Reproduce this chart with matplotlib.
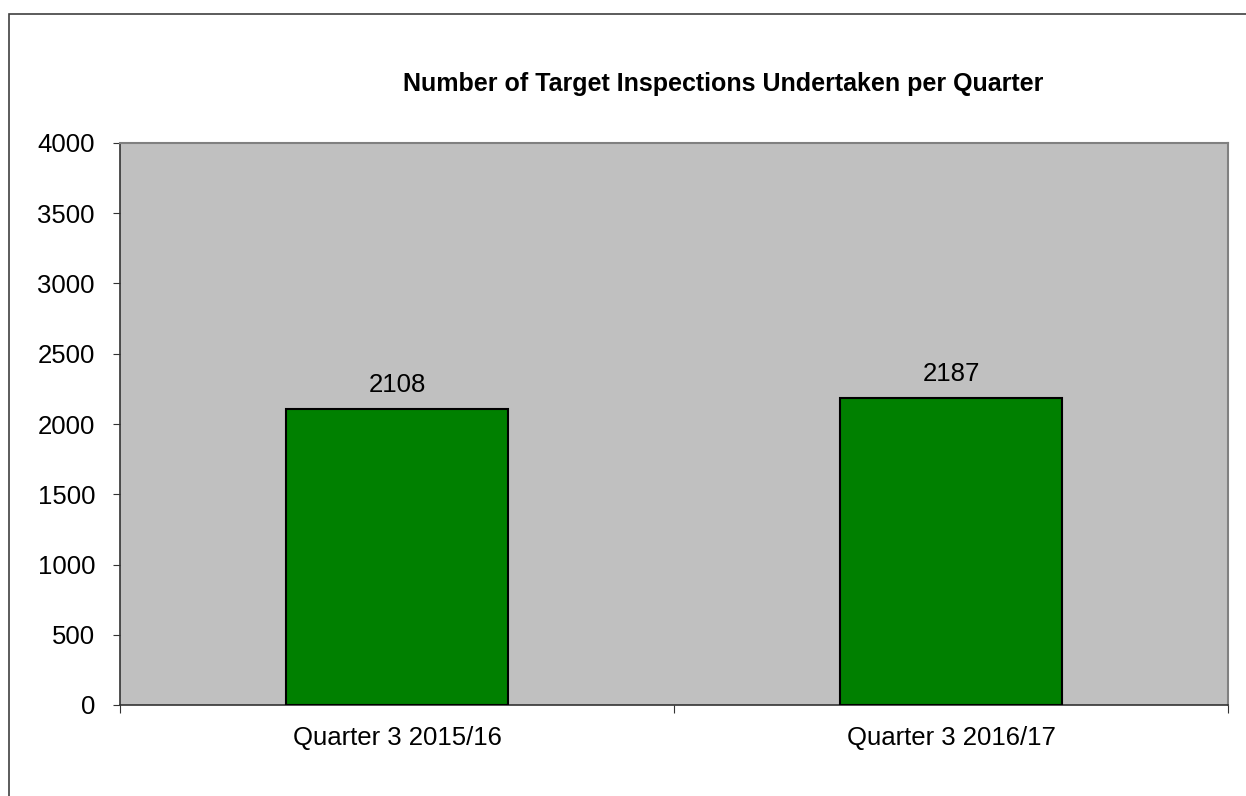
import matplotlib.pyplot as plt
from matplotlib.patches import Rectangle

plt.rcParams['font.family'] = ['Liberation Sans', 'DejaVu Sans']

# Chart data
categories = ['Quarter 3 2015/16', 'Quarter 3 2016/17']
inspections = [2108, 2187]
y_ticks = [0, 500, 1000, 1500, 2000, 2500, 3000, 3500, 4000]

fig = plt.figure(figsize=(12.46, 7.96), dpi=100)
ax = fig.add_axes([120 / 1246, 1 - 705 / 796, 1108 / 1246, 562 / 796])

# outer chart border (only top/left visible in the original)
fig.patches.append(Rectangle((9 / 1246, -0.1), 1.2, 1 - 14 / 796 + 0.1,
                             transform=fig.transFigure, fill=False,
                             edgecolor='#404040', linewidth=1.2))

ax.set_facecolor('#C0C0C0')
x = [i + 0.5 for i in range(len(categories))]
bars = ax.bar(x, inspections, width=0.4, color='#008000',
              edgecolor='black', linewidth=1.5, zorder=3)

for b, v in zip(bars, inspections):
    ax.annotate(str(v), (b.get_x() + b.get_width() / 2, v),
                xytext=(0, 12), textcoords='offset points',
                ha='center', va='baseline', fontsize=18.5)

ax.set_xlim(0, len(categories))
ax.set_ylim(0, 4000)
ax.set_yticks(y_ticks)
ax.set_xticks(range(len(categories) + 1))
ax.set_xticklabels([])
ax.set_xticks(x, minor=True)
ax.set_xticklabels(categories, minor=True)
ax.tick_params(axis='x', which='major', length=6, direction='out', color='#333333')
ax.tick_params(axis='x', which='minor', length=0, pad=15, labelsize=18.5)
ax.tick_params(axis='y', length=5, direction='out', labelsize=18.5, pad=13, color='#333333')

for side in ['top', 'right']:
    ax.spines[side].set_color('#808080')
    ax.spines[side].set_linewidth(1.5)
for side in ['left', 'bottom']:
    ax.spines[side].set_color('#333333')
    ax.spines[side].set_linewidth(1.2)

fig.text(723 / 1246, 1 - 91 / 796, 'Number of Target Inspections Undertaken per Quarter',
         ha='center', va='baseline', fontsize=18, fontweight='bold')

fig.savefig('out.png', dpi=100)
